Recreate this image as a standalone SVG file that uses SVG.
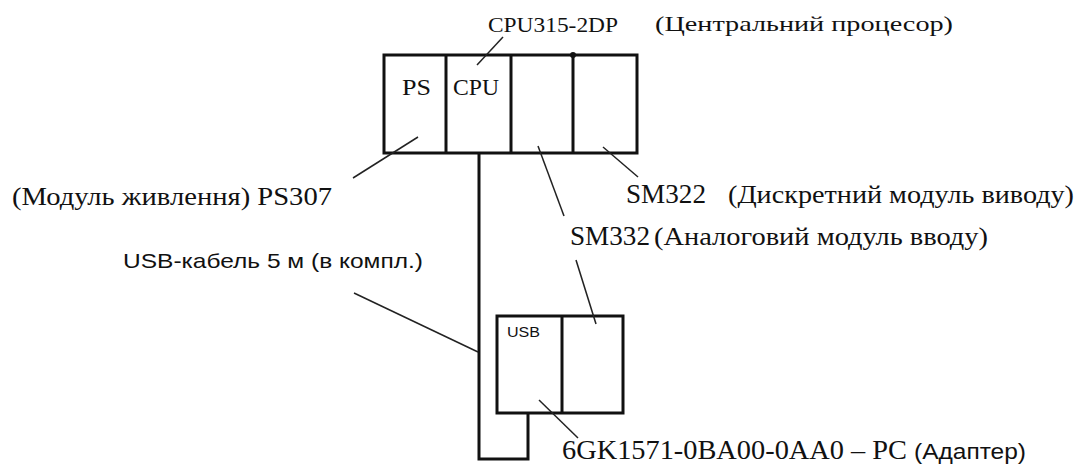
<svg xmlns="http://www.w3.org/2000/svg" width="1083" height="471" viewBox="0 0 1083 471">
<style>
.box{fill:none;stroke:#111;stroke-width:3}
.thick{fill:none;stroke:#111;stroke-width:3;stroke-linejoin:miter}
.lead{stroke:#222;stroke-width:1.5;fill:none}
.serif{font-family:"Liberation Serif","Times New Roman",serif;fill:#111}
.sans{font-family:"Liberation Sans",Arial,sans-serif;fill:#111}
</style>
<rect width="1083" height="471" fill="#fff"/>
<g id="rack">
<rect class="box" x="384" y="55" width="253" height="98"/>
<line class="thick" x1="446" y1="55" x2="446" y2="153"/>
<line class="thick" x1="511" y1="55" x2="511" y2="153"/>
<line class="thick" x1="573" y1="55" x2="573" y2="153"/>
<circle cx="573" cy="55" r="3" fill="#111"/>
<text class="serif" x="402" y="95" font-size="24" textLength="29" lengthAdjust="spacingAndGlyphs">PS</text>
<text class="serif" x="453" y="95" font-size="24" textLength="46" lengthAdjust="spacingAndGlyphs">CPU</text>
</g>
<g id="adapter">
<rect class="box" x="497" y="316" width="126" height="97"/>
<line class="thick" x1="562" y1="316" x2="562" y2="413"/>
<text class="sans" x="507" y="337" font-size="15" textLength="33" lengthAdjust="spacingAndGlyphs">USB</text>
</g>
<g id="connectors">
<path class="thick" d="M479,153 V459 H528 V413"/>
<line class="lead" x1="503" y1="37" x2="477" y2="65"/>
<line class="lead" x1="418" y1="137" x2="353" y2="178"/>
<line class="lead" x1="538" y1="146" x2="564" y2="216"/>
<line class="lead" x1="603" y1="147" x2="638" y2="177"/>
<line class="lead" x1="576" y1="260" x2="596" y2="324"/>
<line class="lead" x1="539" y1="400" x2="578" y2="438"/>
<line class="lead" x1="354" y1="293" x2="478" y2="352"/>
</g>
<g id="labels">
<text class="serif" x="488" y="32" font-size="22" textLength="130" lengthAdjust="spacingAndGlyphs">CPU315-2DP</text>
<text class="serif" x="655" y="31" font-size="22" textLength="298" lengthAdjust="spacingAndGlyphs">(Центральний процесор)</text>
<text class="serif" x="12" y="205" font-size="26" textLength="320" lengthAdjust="spacingAndGlyphs">(Модуль живлення) PS307</text>
<text class="serif" x="626" y="203" font-size="27" textLength="80" lengthAdjust="spacingAndGlyphs">SM322</text>
<text class="serif" x="728" y="203" font-size="26" textLength="346" lengthAdjust="spacingAndGlyphs">(Дискретний модуль виводу)</text>
<text class="serif" x="570" y="245" font-size="27" textLength="80" lengthAdjust="spacingAndGlyphs">SM332</text>
<text class="serif" x="654" y="245" font-size="26" textLength="334" lengthAdjust="spacingAndGlyphs">(Аналоговий модуль вводу)</text>
<text class="sans" x="123" y="268" font-size="21" textLength="300" lengthAdjust="spacingAndGlyphs">USB-кабель 5 м (в компл.)</text>
<text class="serif" x="562" y="459" font-size="28" textLength="345" lengthAdjust="spacingAndGlyphs">6GK1571-0BA00-0AA0 – PC</text>
<text class="sans" x="914" y="459" font-size="22" textLength="112" lengthAdjust="spacingAndGlyphs">(Адаптер)</text>
</g>
</svg>
